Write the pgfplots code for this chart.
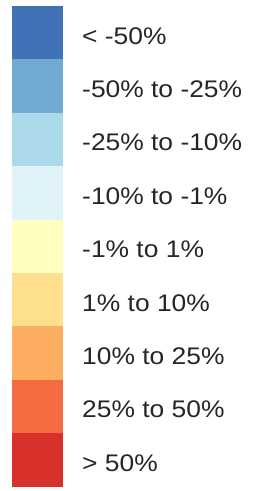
\documentclass[border=0pt]{standalone}
\usepackage{pgfplots}
\pgfplotsset{compat=1.18}
\usepackage{fontspec}
\setmainfont{Liberation Sans}
\definecolor{c1}{HTML}{4172B5}
\definecolor{c2}{HTML}{71ABD2}
\definecolor{c3}{HTML}{ABD9E9}
\definecolor{c4}{HTML}{E0F3F8}
\definecolor{c5}{HTML}{FFFFBF}
\definecolor{c6}{HTML}{FEDF8E}
\definecolor{c7}{HTML}{FDAD60}
\definecolor{c8}{HTML}{F46B42}
\definecolor{c9}{HTML}{D8302A}
\definecolor{txt}{HTML}{262626}
\tikzset{lbl/.style={anchor=base west, inner sep=0pt, text=txt, xscale=1.1,
    font=\fontsize{24}{28}\selectfont}}
\begin{document}
\begin{tikzpicture}
\useasboundingbox[fill=white] (0,0) rectangle (267pt,491pt);
\begin{axis}[
  at={(0,0)}, anchor=south west,
  width=267pt, height=491pt, scale only axis,
  xmin=0, xmax=267, ymin=0, ymax=491, y dir=reverse,
  hide axis, clip=false,
  every axis plot/.append style={draw=none},
]
\addplot[fill=c1] coordinates {(12,6) (63,6) (63,59.4) (12,59.4)} -- cycle;
\addplot[fill=c2] coordinates {(12,59.4) (63,59.4) (63,112.8) (12,112.8)} -- cycle;
\addplot[fill=c3] coordinates {(12,112.8) (63,112.8) (63,166.2) (12,166.2)} -- cycle;
\addplot[fill=c4] coordinates {(12,166.2) (63,166.2) (63,219.6) (12,219.6)} -- cycle;
\addplot[fill=c5] coordinates {(12,219.6) (63,219.6) (63,273) (12,273)} -- cycle;
\addplot[fill=c6] coordinates {(12,273) (63,273) (63,326.4) (12,326.4)} -- cycle;
\addplot[fill=c7] coordinates {(12,326.4) (63,326.4) (63,379.8) (12,379.8)} -- cycle;
\addplot[fill=c8] coordinates {(12,379.8) (63,379.8) (63,433.2) (12,433.2)} -- cycle;
\addplot[fill=c9] coordinates {(12,433.2) (63,433.2) (63,486.6) (12,486.6)} -- cycle;
\node[lbl] at (axis cs:82,44) {< -50\%};
\node[lbl] at (axis cs:82,97.4) {-50\% to -25\%};
\node[lbl] at (axis cs:82,150.8) {-25\% to -10\%};
\node[lbl] at (axis cs:82,204.2) {-10\% to -1\%};
\node[lbl] at (axis cs:82,257.6) {-1\% to 1\%};
\node[lbl] at (axis cs:82,311) {1\% to 10\%};
\node[lbl] at (axis cs:82,364.4) {10\% to 25\%};
\node[lbl] at (axis cs:82,417.8) {25\% to 50\%};
\node[lbl] at (axis cs:82,471.2) {> 50\%};
\end{axis}
\end{tikzpicture}
\end{document}
